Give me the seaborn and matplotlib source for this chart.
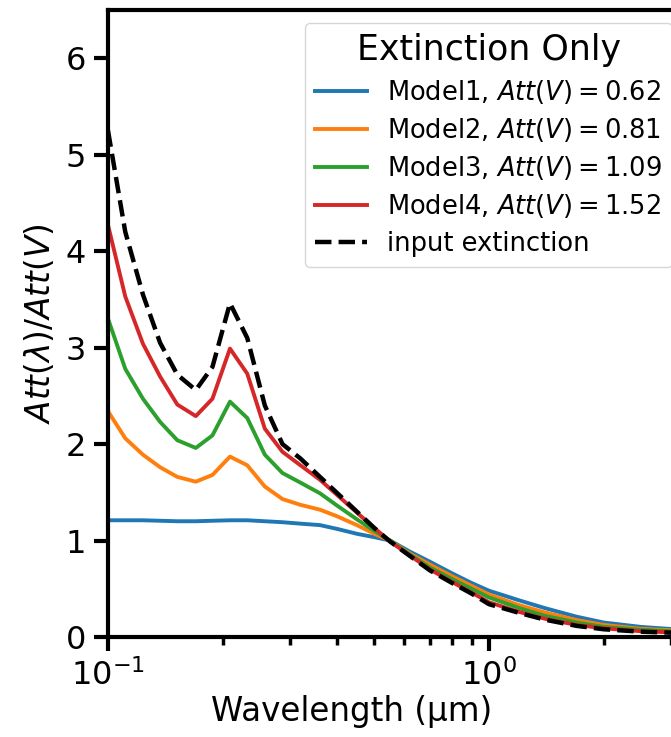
import numpy as np
import pandas as pd
import matplotlib
matplotlib.use("Agg")
import matplotlib.pyplot as plt
import seaborn as sns

# Wavelength grid (micron)
wavelength = [0.100, 0.111, 0.1235, 0.137, 0.152, 0.170, 0.188, 0.209, 0.232, 0.258,
              0.287, 0.32, 0.36, 0.40, 0.45, 0.50, 0.55, 0.62, 0.70, 0.80, 0.90,
              1.0, 1.2, 1.4, 1.7, 2.0, 2.5, 3.0, 3.5]

model1 = [1.21, 1.21, 1.21, 1.205, 1.20, 1.20, 1.205, 1.21, 1.21, 1.20,
          1.19, 1.175, 1.16, 1.12, 1.07, 1.035, 1.0, 0.885, 0.78, 0.66, 0.56,
          0.48, 0.38, 0.30, 0.21, 0.15, 0.105, 0.083, 0.07]
model2 = [2.34, 2.06, 1.89, 1.76, 1.66, 1.61, 1.68, 1.87, 1.78, 1.56,
          1.43, 1.37, 1.32, 1.25, 1.16, 1.07, 1.0, 0.865, 0.75, 0.63, 0.53,
          0.44, 0.33, 0.255, 0.175, 0.125, 0.085, 0.07, 0.06]
model3 = [3.30, 2.78, 2.47, 2.23, 2.04, 1.96, 2.09, 2.44, 2.27, 1.89,
          1.70, 1.60, 1.49, 1.36, 1.22, 1.10, 1.0, 0.855, 0.72, 0.60, 0.50,
          0.41, 0.30, 0.22, 0.15, 0.105, 0.075, 0.06, 0.05]
model4 = [4.27, 3.53, 3.04, 2.70, 2.41, 2.29, 2.47, 2.99, 2.73, 2.16,
          1.92, 1.78, 1.63, 1.47, 1.29, 1.13, 0.99, 0.845, 0.70, 0.57, 0.46,
          0.36, 0.26, 0.19, 0.125, 0.09, 0.06, 0.048, 0.042]
input_ext = [5.25, 4.20, 3.55, 3.05, 2.72, 2.56, 2.80, 3.46, 3.10, 2.40,
             2.00, 1.85, 1.66, 1.49, 1.30, 1.13, 0.99, 0.84, 0.69, 0.56, 0.45,
             0.34, 0.25, 0.18, 0.115, 0.08, 0.055, 0.045, 0.04]

labels = [r"Model1, $Att(V) = 0.62$", r"Model2, $Att(V) = 0.81$",
          r"Model3, $Att(V) = 1.09$", r"Model4, $Att(V) = 1.52$"]
input_label = "input extinction"
colors = ["#1f77b4", "#ff7f0e", "#2ca02c", "#d62728"]

frames = []
for lab, vals in zip(labels, [model1, model2, model3, model4]):
    frames.append(pd.DataFrame({"wavelength": wavelength, "att": vals, "model": lab}))
df = pd.concat(frames, ignore_index=True)
df_in = pd.DataFrame({"wavelength": wavelength, "att": input_ext})

plt.rcParams["font.family"] = ["DejaVu Sans"]
plt.rcParams["mathtext.fontset"] = "dejavusans"

W, H = 671, 737
fig = plt.figure(figsize=(W / 100, H / 100), dpi=100)
left_px, bottom_px, top_px = 108, 637, 10
xmin, xmax = 0.1, 3.5
decade_px = 381
width_px = decade_px * np.log10(xmax / xmin)
ax = fig.add_axes([left_px / W, (H - bottom_px) / H, width_px / W, (bottom_px - top_px) / H])

sns.lineplot(data=df, x="wavelength", y="att", hue="model", palette=colors,
             estimator=None, sort=False, linewidth=2.8, ax=ax)
sns.lineplot(data=df_in, x="wavelength", y="att", color="black", linestyle="--",
             linewidth=3.2, estimator=None, sort=False, label=input_label, ax=ax)

ax.set_xscale("log")
ax.set_xlim(xmin, xmax)
ax.set_ylim(0, 6.5)
ax.set_yticks([0, 1, 2, 3, 4, 5, 6])

for sp in ax.spines.values():
    sp.set_linewidth(3)
    sp.set_color("black")
ax.tick_params(which="major", length=10, width=3, labelsize=23, pad=6)
ax.tick_params(which="minor", length=6, width=2.5)

ax.set_xlabel("Wavelength (μm)", fontsize=23.5, labelpad=2, x=(352 - left_px) / width_px)
ax.set_ylabel(r"$Att(\lambda)/Att(V)$", fontsize=23.5, labelpad=6)

leg = ax.legend(title="Extinction Only", fontsize=18.5, title_fontsize=25,
                loc="upper left", bbox_to_anchor=(305 / W, 1 - 23 / H),
                bbox_transform=fig.transFigure, frameon=True, handlelength=2.0,
                labelspacing=0.4, borderaxespad=0)

fig.savefig("out.png", dpi=100)
